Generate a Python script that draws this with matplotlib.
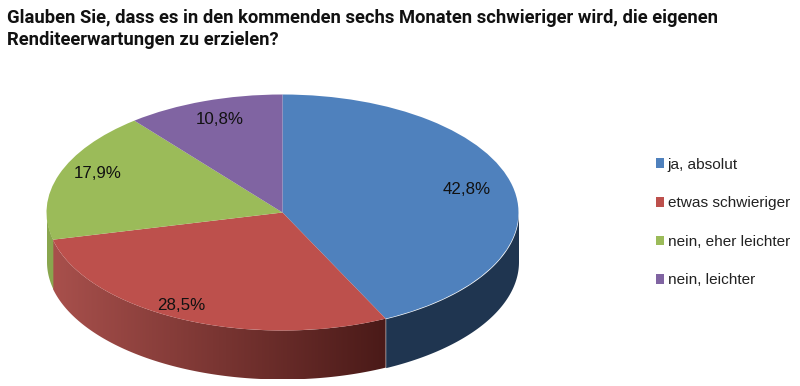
import numpy as np
import matplotlib
matplotlib.use("Agg")
import matplotlib.pyplot as plt
from matplotlib.colors import LinearSegmentedColormap
from matplotlib.patches import Polygon

categories = ["ja, absolut", "etwas schwieriger", "nein, eher leichter", "nein, leichter"]
values = [42.8, 28.5, 17.9, 10.8]
value_labels = ["42,8%", "28,5%", "17,9%", "10,8%"]
colors = ["#4f81bd", "#bd504c", "#9bbb59", "#8064a2"]

title_lines = ["Glauben Sie, dass es in den kommenden sechs Monaten schwieriger wird, die eigenen",
               "Renditeerwartungen zu erzielen?"]

W, H = 800, 386
cx, cy = 282.5, 212.5     # pie centre in pixels
rx, ry = 236, 118     # ellipse radii in pixels
depth = 49 / ry

fig = plt.figure(figsize=(W / 100, H / 100), dpi=100)
ax = fig.add_axes([0, 0, 1, 1])

wedges, _ = ax.pie(values, colors=colors, startangle=90, counterclock=False,
                   radius=1, wedgeprops={"linewidth": 0, "zorder": 3})

# side wall of the squashed pie, only the front half shows
red_cmap = LinearSegmentedColormap.from_list("redwall", ["#a8504c", "#4a1a18"])
edges = 90 - np.concatenate([[0], np.cumsum(values)]) * 3.6
for i in range(len(values)):
    t = np.radians(np.linspace(edges[i], edges[i + 1], 400))
    t = t[np.sin(t) <= 0]
    if len(t) < 2:
        continue
    x = np.cos(t)
    y = np.sin(t)
    order = np.argsort(x)
    x, y = x[order], y[order]
    if i == 1:
        # red wall gets darker towards the right
        outline = np.column_stack([np.r_[x, x[::-1]], np.r_[y, y[::-1] - depth]])
        clip = Polygon(outline, closed=True, transform=ax.transData, facecolor="none", lw=0)
        ax.add_patch(clip)
        im = ax.imshow(np.linspace(0, 1, 256).reshape(1, -1), cmap=red_cmap, aspect="auto",
                       extent=(x.min(), x.max(), (y - depth).min(), y.max()), zorder=2)
        im.set_clip_path(clip)
    else:
        side = {0: "#1f3550", 2: "#89a64e", 3: "#6a5388"}[i]
        ax.fill_between(x, y - depth, y, color=side, lw=0, zorder=2)

ax.set_aspect("auto")
ax.set_xlim(-cx / rx, (W - cx) / rx)
ax.set_ylim(-(H - cy) / ry, cy / ry)

# value labels
label_px = [(467, 190), (181, 305), (98, 173), (220, 120)]
for lab, (px, py) in zip(value_labels, label_px):
    ax.text((px - cx) / rx, (cy - py) / ry, lab, ha="center", va="center",
            fontsize=12.2, family="Liberation Sans", color="#111111", zorder=5)

leg = ax.legend(wedges, categories, loc="center left", bbox_to_anchor=(656 / W, 1 - 222.5 / H),
                bbox_transform=fig.transFigure, frameon=False, handlelength=0.55, handleheight=0.6,
                handletextpad=0.2, labelspacing=1.6, borderpad=0, borderaxespad=0,
                prop={"family": "Liberation Sans", "size": 11.1})
for t in leg.get_texts():
    t.set_color("#222222")

for k, line in enumerate(title_lines):
    fig.text(7 / W, 1 - (18 + 22 * k) / H, line, ha="left", va="center", fontsize=13.25,
             family="Roboto", fontweight="bold", color="#111111")

fig.savefig("out.png", dpi=100)
